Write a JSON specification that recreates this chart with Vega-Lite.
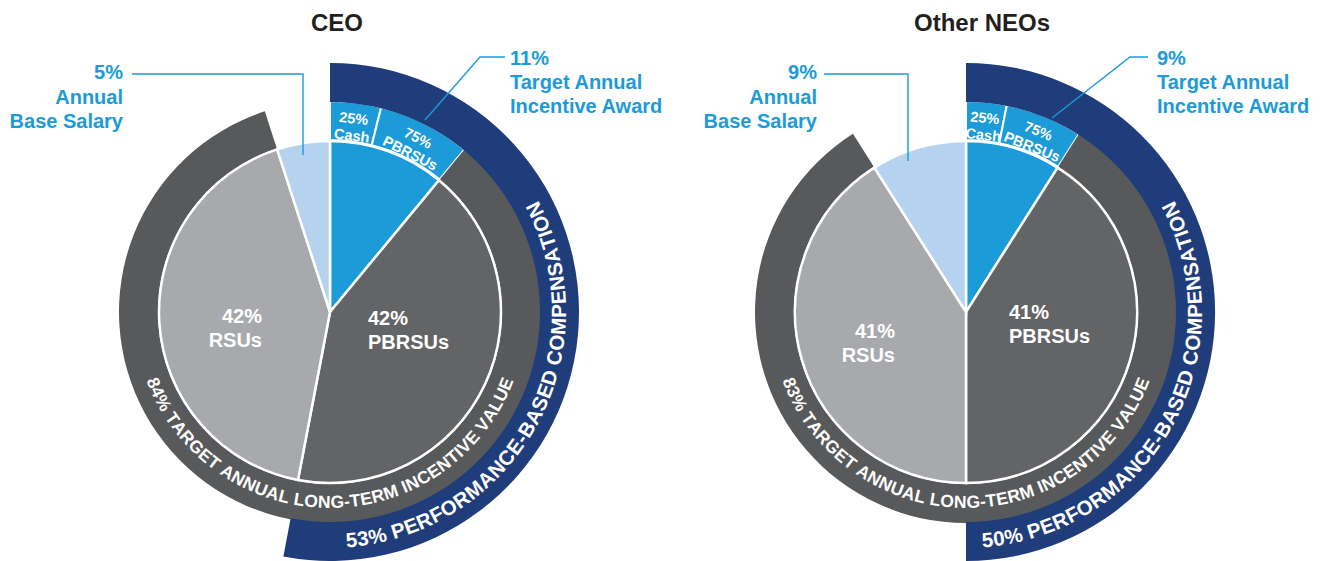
{
  "$schema": "https://vega.github.io/schema/vega-lite/v6.json",
  "background": "white",
  "padding": {"left": 9, "top": 0, "right": 0, "bottom": 0},
  "spacing": 0,
  "bounds": "flush",
  "config": {"view": {"stroke": null}, "font": "Liberation Sans"},
  "data": {"values": [
    {"chart": "CEO", "kind": "pie", "part": "Target Annual Incentive", "value": 11, "order": 1},
    {"chart": "CEO", "kind": "pie", "part": "PBRSUs", "value": 42, "order": 2},
    {"chart": "CEO", "kind": "pie", "part": "RSUs", "value": 42, "order": 3},
    {"chart": "CEO", "kind": "pie", "part": "Annual Base Salary", "value": 5, "order": 4},
    {"chart": "Other NEOs", "kind": "pie", "part": "Target Annual Incentive", "value": 9, "order": 1},
    {"chart": "Other NEOs", "kind": "pie", "part": "PBRSUs", "value": 41, "order": 2},
    {"chart": "Other NEOs", "kind": "pie", "part": "RSUs", "value": 41, "order": 3},
    {"chart": "Other NEOs", "kind": "pie", "part": "Annual Base Salary", "value": 9, "order": 4},

    {"chart": "CEO", "kind": "band", "part": "Cash", "value": 3.9, "order": 1, "label": "25%\nCash"},
    {"chart": "CEO", "kind": "band", "part": "Incentive PBRSUs", "value": 7.1, "order": 2, "label": "75%\nPBRSUs"},
    {"chart": "CEO", "kind": "band", "part": "gap", "value": 89, "order": 3},
    {"chart": "Other NEOs", "kind": "band", "part": "Cash", "value": 3.1, "order": 1, "label": "25%\nCash"},
    {"chart": "Other NEOs", "kind": "band", "part": "Incentive PBRSUs", "value": 5.9, "order": 2, "label": "75%\nPBRSUs"},
    {"chart": "Other NEOs", "kind": "band", "part": "gap", "value": 91, "order": 3},

    {"chart": "CEO", "kind": "lti", "part": "gap", "value": 11, "order": 1},
    {"chart": "CEO", "kind": "lti", "part": "Long-Term Incentive", "value": 84, "order": 2},
    {"chart": "CEO", "kind": "lti", "part": "gap", "value": 5, "order": 3},
    {"chart": "Other NEOs", "kind": "lti", "part": "gap", "value": 9, "order": 1},
    {"chart": "Other NEOs", "kind": "lti", "part": "Long-Term Incentive", "value": 82, "order": 2},
    {"chart": "Other NEOs", "kind": "lti", "part": "gap", "value": 9, "order": 3},

    {"chart": "CEO", "kind": "perf", "part": "Performance-Based", "value": 53, "order": 1},
    {"chart": "CEO", "kind": "perf", "part": "gap", "value": 47, "order": 2},
    {"chart": "Other NEOs", "kind": "perf", "part": "Performance-Based", "value": 50, "order": 1},
    {"chart": "Other NEOs", "kind": "perf", "part": "gap", "value": 50, "order": 2},

    {"chart": "CEO", "kind": "curve", "ring": "lti", "text": "84% TARGET ANNUAL LONG-TERM INCENTIVE VALUE"},
    {"chart": "CEO", "kind": "curve", "ring": "perf", "text": "53% PERFORMANCE-BASED COMPENSATION"},
    {"chart": "Other NEOs", "kind": "curve", "ring": "lti", "text": "83% TARGET ANNUAL LONG-TERM INCENTIVE VALUE"},
    {"chart": "Other NEOs", "kind": "curve", "ring": "perf", "text": "50% PERFORMANCE-BASED COMPENSATION"},

    {"chart": "CEO", "kind": "slicelabel", "part": "RSUs", "text": "42%\nRSUs", "x": -68, "y": -11},
    {"chart": "CEO", "kind": "slicelabel", "part": "PBRSUs", "text": "42%\nPBRSUs", "x": 38, "y": -13},
    {"chart": "Other NEOs", "kind": "slicelabel", "part": "RSUs", "text": "41%\nRSUs", "x": -71, "y": -26},
    {"chart": "Other NEOs", "kind": "slicelabel", "part": "PBRSUs", "text": "41%\nPBRSUs", "x": 43, "y": -7},

    {"chart": "CEO", "kind": "note", "part": "Annual Base Salary", "text": "5%\nAnnual\nBase Salary", "x": -207, "y": 233},
    {"chart": "CEO", "kind": "note", "part": "Target Annual Incentive", "text": "11%\nTarget Annual\nIncentive Award", "x": 180, "y": 247},
    {"chart": "Other NEOs", "kind": "note", "part": "Annual Base Salary", "text": "9%\nAnnual\nBase Salary", "x": -149, "y": 233},
    {"chart": "Other NEOs", "kind": "note", "part": "Target Annual Incentive", "text": "9%\nTarget Annual\nIncentive Award", "x": 191, "y": 247},

    {"chart": "CEO", "kind": "leader", "part": "Annual Base Salary", "seq": 1, "x": -198, "y": 238},
    {"chart": "CEO", "kind": "leader", "part": "Annual Base Salary", "seq": 2, "x": -27, "y": 238},
    {"chart": "CEO", "kind": "leader", "part": "Annual Base Salary", "seq": 3, "x": -27, "y": 157},
    {"chart": "CEO", "kind": "leader", "part": "Target Annual Incentive", "seq": 1, "x": 95, "y": 192},
    {"chart": "CEO", "kind": "leader", "part": "Target Annual Incentive", "seq": 2, "x": 150, "y": 255},
    {"chart": "CEO", "kind": "leader", "part": "Target Annual Incentive", "seq": 3, "x": 175, "y": 255},
    {"chart": "Other NEOs", "kind": "leader", "part": "Annual Base Salary", "seq": 1, "x": -142, "y": 238},
    {"chart": "Other NEOs", "kind": "leader", "part": "Annual Base Salary", "seq": 2, "x": -58, "y": 238},
    {"chart": "Other NEOs", "kind": "leader", "part": "Annual Base Salary", "seq": 3, "x": -58, "y": 151},
    {"chart": "Other NEOs", "kind": "leader", "part": "Target Annual Incentive", "seq": 1, "x": 86, "y": 194},
    {"chart": "Other NEOs", "kind": "leader", "part": "Target Annual Incentive", "seq": 2, "x": 164, "y": 255},
    {"chart": "Other NEOs", "kind": "leader", "part": "Target Annual Incentive", "seq": 3, "x": 182, "y": 255},

    {"chart": "CEO", "kind": "title", "text": "CEO", "x": 7, "y": 281},
    {"chart": "Other NEOs", "kind": "title", "text": "Other NEOs", "x": 16, "y": 281}
  ]},
  "facet": {"column": {"field": "chart", "type": "nominal", "sort": ["CEO", "Other NEOs"], "header": null}},
  "spec": {
    "width": 636,
    "height": 561,
    "layer": [
      {
        "transform": [
          {"filter": "datum.kind == 'band'"},
          {"stack": "value", "groupby": ["chart"], "sort": [{"field": "order", "order": "ascending"}], "as": ["t0", "t1"]},
          {"filter": "datum.part != 'gap'"}
        ],
        "mark": {"type": "arc", "stroke": "white", "strokeWidth": 2},
        "encoding": {
          "x": {"datum": 0, "type": "quantitative", "scale": {"domain": [-318, 318], "nice": false, "zero": false}, "axis": null},
          "y": {"datum": 0, "type": "quantitative", "scale": {"domain": [-249, 312], "nice": false, "zero": false}, "axis": null},
          "theta": {"field": "t0", "type": "quantitative", "stack": null, "scale": {"domain": [0, 100], "range": [0, 6.283185307179586], "nice": false}},
          "theta2": {"field": "t1"},
          "radius": {"value": 211},
          "radius2": {"value": 172},
          "color": {"field": "part", "type": "nominal", "legend": null, "scale": {"domain": ["Target Annual Incentive", "PBRSUs", "RSUs", "Annual Base Salary", "Cash", "Incentive PBRSUs", "Long-Term Incentive", "Performance-Based"], "range": ["#1b9bd7", "#636466", "#a7a9ac", "#b5d3ee", "#1b9bd7", "#1b9bd7", "#58595b", "#1f3d7a"]}}
        }
      },
      {
        "transform": [
          {"filter": "datum.kind == 'lti'"},
          {"stack": "value", "groupby": ["chart"], "sort": [{"field": "order", "order": "ascending"}], "as": ["t0", "t1"]},
          {"filter": "datum.part != 'gap'"}
        ],
        "mark": {"type": "arc"},
        "encoding": {
          "x": {"datum": 0, "type": "quantitative", "scale": {"domain": [-318, 318], "nice": false, "zero": false}, "axis": null},
          "y": {"datum": 0, "type": "quantitative", "scale": {"domain": [-249, 312], "nice": false, "zero": false}, "axis": null},
          "theta": {"field": "t0", "type": "quantitative", "stack": null, "scale": {"domain": [0, 100], "range": [0, 6.283185307179586], "nice": false}},
          "theta2": {"field": "t1"},
          "radius": {"value": 211},
          "radius2": {"value": 172},
          "color": {"field": "part", "type": "nominal", "legend": null}
        }
      },
      {
        "transform": [
          {"filter": "datum.kind == 'perf'"},
          {"stack": "value", "groupby": ["chart"], "sort": [{"field": "order", "order": "ascending"}], "as": ["t0", "t1"]},
          {"filter": "datum.part != 'gap'"}
        ],
        "mark": {"type": "arc"},
        "encoding": {
          "x": {"datum": 0, "type": "quantitative", "scale": {"domain": [-318, 318], "nice": false, "zero": false}, "axis": null},
          "y": {"datum": 0, "type": "quantitative", "scale": {"domain": [-249, 312], "nice": false, "zero": false}, "axis": null},
          "theta": {"field": "t0", "type": "quantitative", "stack": null, "scale": {"domain": [0, 100], "range": [0, 6.283185307179586], "nice": false}},
          "theta2": {"field": "t1"},
          "radius": {"value": 249},
          "radius2": {"value": 210},
          "color": {"field": "part", "type": "nominal", "legend": null}
        }
      },
      {
        "transform": [
          {"filter": "datum.kind == 'pie'"},
          {"stack": "value", "groupby": ["chart"], "sort": [{"field": "order", "order": "ascending"}], "as": ["t0", "t1"]}
        ],
        "mark": {"type": "arc", "stroke": "white", "strokeWidth": 2.5},
        "encoding": {
          "x": {"datum": 0, "type": "quantitative", "scale": {"domain": [-318, 318], "nice": false, "zero": false}, "axis": null},
          "y": {"datum": 0, "type": "quantitative", "scale": {"domain": [-249, 312], "nice": false, "zero": false}, "axis": null},
          "theta": {"field": "t0", "type": "quantitative", "stack": null, "scale": {"domain": [0, 100], "range": [0, 6.283185307179586], "nice": false}},
          "theta2": {"field": "t1"},
          "radius": {"value": 171},
          "color": {"field": "part", "type": "nominal", "legend": null}
        }
      },
      {
        "transform": [
          {"filter": "datum.kind == 'band'"},
          {"stack": "value", "groupby": ["chart"], "sort": [{"field": "order", "order": "ascending"}], "as": ["t0", "t1"]},
          {"filter": "datum.part != 'gap'"},
          {"calculate": "(datum.t0 + datum.t1) / 2", "as": "mid"},
          {"calculate": "datum.mid * 3.6", "as": "rot"}
        ],
        "mark": {"type": "text", "fontSize": 14.5, "fontWeight": "bold", "color": "white", "align": "center", "baseline": "middle", "lineBreak": "\n", "lineHeight": 17},
        "encoding": {
          "x": {"datum": 0, "type": "quantitative", "scale": {"domain": [-318, 318], "nice": false, "zero": false}, "axis": null},
          "y": {"datum": 0, "type": "quantitative", "scale": {"domain": [-249, 312], "nice": false, "zero": false}, "axis": null},
          "theta": {"field": "mid", "type": "quantitative", "stack": null, "scale": {"domain": [0, 100], "range": [0, 6.283185307179586], "nice": false}},
          "radius": {"value": 194},
          "angle": {"field": "rot", "type": "quantitative", "scale": null},
          "text": {"field": "label"}
        }
      },
      {
        "transform": [{"filter": "datum.kind == 'slicelabel' && datum.part == 'RSUs'"}],
        "mark": {"type": "text", "fontSize": 20, "fontWeight": "bold", "color": "white", "align": "right", "baseline": "alphabetic", "lineBreak": "\n", "lineHeight": 23.5},
        "encoding": {
          "x": {"field": "x", "type": "quantitative", "scale": {"domain": [-318, 318], "nice": false, "zero": false}, "axis": null},
          "y": {"field": "y", "type": "quantitative", "scale": {"domain": [-249, 312], "nice": false, "zero": false}, "axis": null},
          "text": {"field": "text"}
        }
      },
      {
        "transform": [{"filter": "datum.kind == 'slicelabel' && datum.part == 'PBRSUs'"}],
        "mark": {"type": "text", "fontSize": 20, "fontWeight": "bold", "color": "white", "align": "left", "baseline": "alphabetic", "lineBreak": "\n", "lineHeight": 23.5},
        "encoding": {
          "x": {"field": "x", "type": "quantitative", "scale": {"domain": [-318, 318], "nice": false, "zero": false}, "axis": null},
          "y": {"field": "y", "type": "quantitative", "scale": {"domain": [-249, 312], "nice": false, "zero": false}, "axis": null},
          "text": {"field": "text"}
        }
      },
      {
        "transform": [{"filter": "datum.kind == 'note' && datum.part == 'Annual Base Salary'"}],
        "mark": {"type": "text", "fontSize": 20, "fontWeight": "bold", "color": "#1b9bd7", "align": "right", "baseline": "alphabetic", "lineBreak": "\n", "lineHeight": 24.5},
        "encoding": {
          "x": {"field": "x", "type": "quantitative", "scale": {"domain": [-318, 318], "nice": false, "zero": false}, "axis": null},
          "y": {"field": "y", "type": "quantitative", "scale": {"domain": [-249, 312], "nice": false, "zero": false}, "axis": null},
          "text": {"field": "text"}
        }
      },
      {
        "transform": [{"filter": "datum.kind == 'note' && datum.part == 'Target Annual Incentive'"}],
        "mark": {"type": "text", "fontSize": 20, "fontWeight": "bold", "color": "#1b9bd7", "align": "left", "baseline": "alphabetic", "lineBreak": "\n", "lineHeight": 24},
        "encoding": {
          "x": {"field": "x", "type": "quantitative", "scale": {"domain": [-318, 318], "nice": false, "zero": false}, "axis": null},
          "y": {"field": "y", "type": "quantitative", "scale": {"domain": [-249, 312], "nice": false, "zero": false}, "axis": null},
          "text": {"field": "text"}
        }
      },
      {
        "transform": [{"filter": "datum.kind == 'leader'"}],
        "mark": {"type": "line", "color": "#1b9bd7", "strokeWidth": 1.4},
        "encoding": {
          "x": {"field": "x", "type": "quantitative", "scale": {"domain": [-318, 318], "nice": false, "zero": false}, "axis": null},
          "y": {"field": "y", "type": "quantitative", "scale": {"domain": [-249, 312], "nice": false, "zero": false}, "axis": null},
          "detail": {"field": "part"},
          "order": {"field": "seq", "type": "quantitative"}
        }
      },
      {
        "transform": [{"filter": "datum.kind == 'title'"}],
        "mark": {"type": "text", "fontSize": 24, "fontWeight": "bold", "color": "#231f20", "align": "center", "baseline": "alphabetic"},
        "encoding": {
          "x": {"field": "x", "type": "quantitative", "scale": {"domain": [-318, 318], "nice": false, "zero": false}, "axis": null},
          "y": {"field": "y", "type": "quantitative", "scale": {"domain": [-249, 312], "nice": false, "zero": false}, "axis": null},
          "text": {"field": "text"}
        }
      },
      {
        "transform": [
          {"filter": "datum.kind == 'curve' && datum.ring == 'lti'"},
          {"calculate": "split(datum.text, '')", "as": "ch"},
          {"flatten": ["ch"]},
          {"calculate": "indexof(' I', datum.ch) >= 0 ? 0.278 : datum.ch == '-' ? 0.333 : indexof('0123456789J', datum.ch) >= 0 ? 0.556 : indexof('FLTZ', datum.ch) >= 0 ? 0.611 : indexof('EPSVXY', datum.ch) >= 0 ? 0.667 : indexof('ABCDHKNRU', datum.ch) >= 0 ? 0.722 : indexof('GOQ', datum.ch) >= 0 ? 0.778 : datum.ch == 'M' ? 0.833 : datum.ch == '%' ? 0.889 : 0.944", "as": "w"},
          {"window": [{"op": "sum", "field": "w", "as": "cum"}], "groupby": ["chart"], "frame": [null, 0]},
          {"joinaggregate": [{"op": "sum", "field": "w", "as": "tot"}], "groupby": ["chart"]},
          {"calculate": "PI + (datum.tot / 2 - datum.cum + datum.w / 2) * 17.5 / 191", "as": "th"},
          {"calculate": "datum.th * 180 / PI - 180", "as": "rot"}
        ],
        "mark": {"type": "text", "fontSize": 17.5, "fontWeight": "bold", "color": "white", "align": "center", "baseline": "middle"},
        "encoding": {
          "x": {"datum": 0, "type": "quantitative", "scale": {"domain": [-318, 318], "nice": false, "zero": false}, "axis": null},
          "y": {"datum": 0, "type": "quantitative", "scale": {"domain": [-249, 312], "nice": false, "zero": false}, "axis": null},
          "theta": {"field": "th", "type": "quantitative", "stack": null, "scale": null},
          "radius": {"value": 191},
          "angle": {"field": "rot", "type": "quantitative", "scale": null},
          "text": {"field": "ch"}
        }
      },
      {
        "transform": [
          {"filter": "datum.kind == 'curve' && datum.ring == 'perf'"},
          {"calculate": "split(datum.text, '')", "as": "ch"},
          {"flatten": ["ch"]},
          {"calculate": "indexof(' I', datum.ch) >= 0 ? 0.278 : datum.ch == '-' ? 0.333 : indexof('0123456789J', datum.ch) >= 0 ? 0.556 : indexof('FLTZ', datum.ch) >= 0 ? 0.611 : indexof('EPSVXY', datum.ch) >= 0 ? 0.667 : indexof('ABCDHKNRU', datum.ch) >= 0 ? 0.722 : indexof('GOQ', datum.ch) >= 0 ? 0.778 : datum.ch == 'M' ? 0.833 : datum.ch == '%' ? 0.889 : 0.944", "as": "w"},
          {"window": [{"op": "sum", "field": "w", "as": "cum"}], "groupby": ["chart"], "frame": [null, 0]},
          {"calculate": "3.0718 - (datum.cum - datum.w / 2) * 20.5 / 230", "as": "th"},
          {"calculate": "datum.th * 180 / PI - 180", "as": "rot"}
        ],
        "mark": {"type": "text", "fontSize": 20.5, "fontWeight": "bold", "color": "white", "align": "center", "baseline": "middle"},
        "encoding": {
          "x": {"datum": 0, "type": "quantitative", "scale": {"domain": [-318, 318], "nice": false, "zero": false}, "axis": null},
          "y": {"datum": 0, "type": "quantitative", "scale": {"domain": [-249, 312], "nice": false, "zero": false}, "axis": null},
          "theta": {"field": "th", "type": "quantitative", "stack": null, "scale": null},
          "radius": {"value": 230},
          "angle": {"field": "rot", "type": "quantitative", "scale": null},
          "text": {"field": "ch"}
        }
      }
    ]
  }
}
